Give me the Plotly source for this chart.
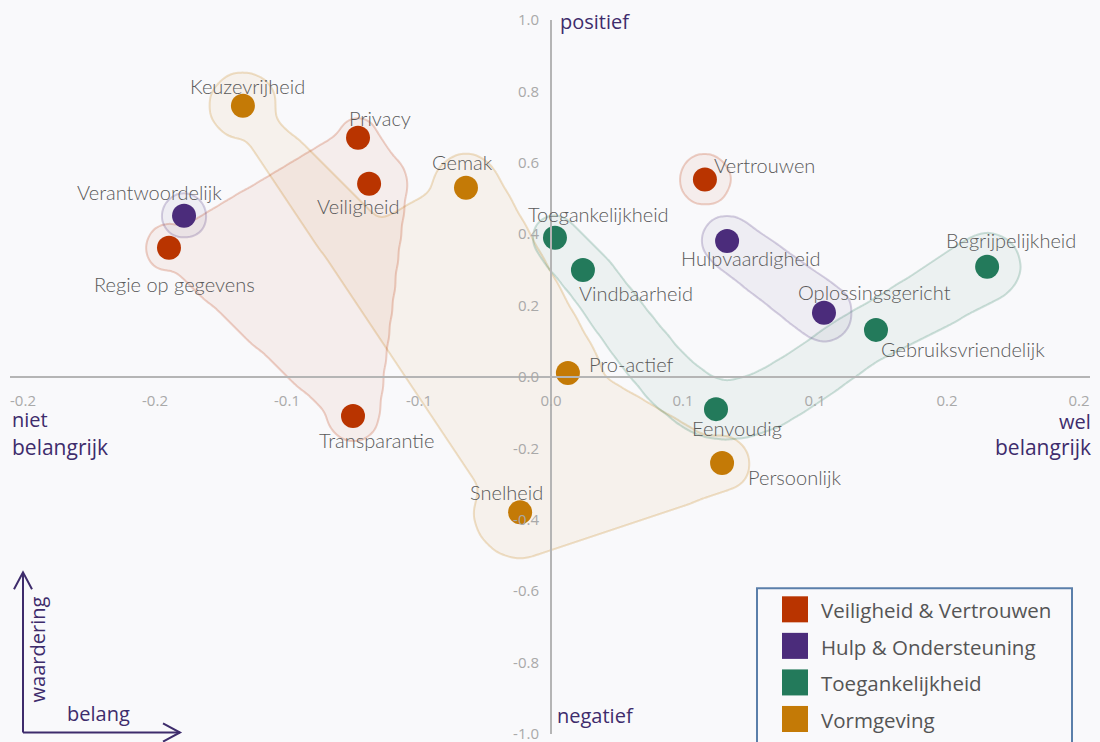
import numpy as np
import plotly.graph_objects as go

# ---------------- data ----------------
labels = ["Keuzevrijheid", "Privacy", "Veiligheid", "Gemak", "Verantwoordelijk",
          "Regie op gegevens", "Transparantie", "Snelheid", "Pro-actief",
          "Toegankelijkheid", "Vindbaarheid", "Vertrouwen", "Hulpvaardigheid",
          "Oplossingsgericht", "Gebruiksvriendelijk", "Begrijpelijkheid",
          "Eenvoudig", "Persoonlijk"]
belang = [-0.1167, -0.0731, -0.0689, -0.0322, -0.1390, -0.1447, -0.0750, -0.0117,
          0.0064, 0.0015, 0.0121, 0.0583, 0.0667, 0.1034, 0.1231, 0.1652, 0.0625, 0.0648]
waardering = [0.760, 0.670, 0.541, 0.530, 0.452, 0.362, -0.109, -0.379,
              0.011, 0.390, 0.300, 0.553, 0.381, 0.180, 0.132, 0.309, -0.090, -0.241]
categorie = ["Vormgeving", "Veiligheid & Vertrouwen", "Veiligheid & Vertrouwen", "Vormgeving",
             "Hulp & Ondersteuning", "Veiligheid & Vertrouwen", "Veiligheid & Vertrouwen",
             "Vormgeving", "Vormgeving", "Toegankelijkheid", "Toegankelijkheid",
             "Veiligheid & Vertrouwen", "Hulp & Ondersteuning", "Hulp & Ondersteuning",
             "Toegankelijkheid", "Toegankelijkheid", "Toegankelijkheid", "Vormgeving"]
categories = ["Veiligheid & Vertrouwen", "Hulp & Ondersteuning", "Toegankelijkheid", "Vormgeving"]

x_tickvals = [-0.2, -0.15, -0.1, -0.05, 0.0, 0.05, 0.1, 0.15, 0.2]
x_ticktext = ["-0.2", "-0.2", "-0.1", "-0.1", "0.0", "0.1", "0.1", "0.2", "0.2"]
y_tickvals = [1.0, 0.8, 0.6, 0.4, 0.2, 0.0, -0.2, -0.4, -0.6, -0.8, -1.0]
y_ticktext = ["1.0", "0.8", "0.6", "0.4", "0.2", "0.0", "-0.2", "-0.4", "-0.6", "-0.8", "-1.0"]

# ---------------- style ----------------
W, H = 1100, 753                # page height; the capture maps it onto 742 rows
VS = H / 742.0                  # page px per picture px (vertical)
ML, MR = 10, 10
MT = 19.5 * VS
MB = H - 732.5 * VS
PW, PH = W - ML - MR, H - MT - MB
PXU = 2640.0                    # pixels per data unit (x)
XR = (-0.2 - (23 - ML) / PXU, 0.2 + (W - MR - 1079) / PXU)
YR = (-1.0, 1.0)
PYU = PH / (YR[1] - YR[0]) / VS  # picture pixels per data unit (y)

colors = {"Veiligheid & Vertrouwen": "#B93400",
          "Hulp & Ondersteuning": "#4B2C7B",
          "Toegankelijkheid": "#237A5B",
          "Vormgeving": "#C47A06"}
rgb = {k: tuple(int(v[i:i + 2], 16) for i in (1, 3, 5)) for k, v in colors.items()}
BG = "#F9F9FB"
PURPLE = "#3E2C6C"
LABEL_FONT = "Lato"
GEO_FONT = "Open Sans"

label_offsets = {  # (dx, dy) in px, dy up
    "Keuzevrijheid": (5, 19), "Privacy": (22, 20), "Veiligheid": (-11, -22),
    "Gemak": (-3, 25), "Verantwoordelijk": (-35, 23), "Regie op gegevens": (6, -36),
    "Transparantie": (23, -24), "Snelheid": (-14, 20), "Pro-actief": (64, 9),
    "Toegankelijkheid": (44, 23), "Vindbaarheid": (53, -23), "Vertrouwen": (60, 14),
    "Hulpvaardigheid": (23, -17), "Oplossingsgericht": (51, 20),
    "Gebruiksvriendelijk": (87, -19), "Begrijpelijkheid": (24, 26),
    "Eenvoudig": (21, -19), "Persoonlijk": (72, -14),
}

# ---------------- hull geometry (derived from member points) ----------------
pos = {n: np.array([x * PXU, y * PYU]) for n, x, y in zip(labels, belang, waardering)}


def P(ref):
    if isinstance(ref, dict):
        return sum(w * pos[n] for n, w in ref.items())
    return pos[ref]


V1 = {"Keuzevrijheid": 0.46, "Gemak": 0.27, "Snelheid": 0.27}

hull_specs = {
    "Veiligheid & Vertrouwen": [
        ("poly", ["Regie op gegevens", "Privacy", "Veiligheid", "Transparantie"]),
        ("edge", "Regie op gegevens", "Privacy", 11, 13),
        ("edge", "Privacy", "Veiligheid", 20, 38),
        ("edge", "Veiligheid", "Transparantie", 38, 26),
        ("edge", "Transparantie", "Regie op gegevens", 16, 13),
        ("disc", "Regie op gegevens", 24), ("disc", "Privacy", 18),
        ("disc", "Transparantie", 25), ("disc", "Vertrouwen", 26),
    ],
    "Hulp & Ondersteuning": [
        ("disc", "Verantwoordelijk", 23),
        ("edge", "Hulpvaardigheid", "Oplossingsgericht", 26, 29),
    ],
    "Toegankelijkheid": [
        ("chain", ["Toegankelijkheid", "Vindbaarheid", "Eenvoudig", "Gebruiksvriendelijk",
                   "Begrijpelijkheid"], [23, 25, 30, 28, 34]),
    ],
    "Vormgeving": [
        ("poly", ["Keuzevrijheid", V1, "Gemak", "Pro-actief", "Persoonlijk", "Snelheid"]),
        ("edge", "Keuzevrijheid", V1, 14, 14),
        ("edge", V1, "Gemak", 14, 14),
        ("edge", "Gemak", "Pro-actief", 34, 34),
        ("edge", "Pro-actief", "Persoonlijk", 15, 15),
        ("edge", "Persoonlijk", "Snelheid", 28, 46),
        ("edge", "Snelheid", "Keuzevrijheid", 20, 16),
        ("disc", "Keuzevrijheid", 34), ("disc", "Gemak", 26),
        ("disc", "Persoonlijk", 28), ("disc", "Snelheid", 42),
    ],
}

gx = np.linspace(XR[0], XR[1], 361)
gy = np.linspace(YR[0], YR[1], 239)
GX, GY = np.meshgrid(gx * PXU, gy * PYU)


def f_disc(c, r):
    return np.hypot(GX - c[0], GY - c[1]) - r


def f_edge(a, b, ra, rb):
    ab = b - a
    t = np.clip(((GX - a[0]) * ab[0] + (GY - a[1]) * ab[1]) / (ab @ ab), 0, 1)
    return np.hypot(GX - (a[0] + t * ab[0]), GY - (a[1] + t * ab[1])) - (ra + t * (rb - ra))


def f_poly(pts):
    inside = np.zeros(GX.shape, bool)
    n = len(pts)
    for i in range(n):
        (xi, yi), (xj, yj) = pts[i], pts[i - 1]
        cond = ((yi > GY) != (yj > GY)) & (GX < (xj - xi) * (GY - yi) / (yj - yi + 1e-12) + xi)
        inside ^= cond
    return np.where(inside, -1.0, np.inf)


def f_chain(pts, radii):
    pts = [np.asarray(p) for p in pts]
    ext = [2 * pts[0] - pts[1]] + pts + [2 * pts[-1] - pts[-2]]
    out = np.full(GX.shape, np.inf)
    for i in range(len(pts) - 1):
        p0, p1, p2, p3 = ext[i], ext[i + 1], ext[i + 2], ext[i + 3]
        for t in np.linspace(0, 1, 80):
            c = 0.5 * (2 * p1 + (-p0 + p2) * t + (2 * p0 - 5 * p1 + 4 * p2 - p3) * t ** 2
                       + (-p0 + 3 * p1 - 3 * p2 + p3) * t ** 3)
            r = radii[i] + t * (radii[i + 1] - radii[i])
            out = np.minimum(out, f_disc(c, r))
    return out


def blur(a, s=2.0):
    k = np.exp(-0.5 * (np.arange(-6, 7) / s) ** 2)
    k /= k.sum()
    a = np.apply_along_axis(lambda m: np.convolve(m, k, mode="same"), 0, a)
    return np.apply_along_axis(lambda m: np.convolve(m, k, mode="same"), 1, a)


def hull_field(spec):
    f = np.full(GX.shape, np.inf)
    for comp in spec:
        kind = comp[0]
        if kind == "disc":
            g = f_disc(P(comp[1]), comp[2])
        elif kind == "edge":
            g = f_edge(P(comp[1]), P(comp[2]), comp[3], comp[4])
        elif kind == "poly":
            g = f_poly([P(p) for p in comp[1]])
        else:
            g = f_chain([P(p) for p in comp[1]], comp[2])
        f = np.minimum(f, g)
    return blur((f < 0).astype(float))


fig = go.Figure()

for cat in ["Vormgeving", "Veiligheid & Vertrouwen", "Toegankelijkheid", "Hulp & Ondersteuning"]:
    r, g, b = rgb[cat]
    fig.add_trace(go.Contour(
        x=gx, y=gy, z=hull_field(hull_specs[cat]),
        contours=dict(type="constraint", operation="<", value=0.5),
        fillcolor=f"rgba({r},{g},{b},0.06)",
        line=dict(color=f"rgba({r},{g},{b},0.22)", width=2, smoothing=1),
        showscale=False, hoverinfo="skip", showlegend=False))

for cat in categories:
    idx = [i for i, c in enumerate(categorie) if c == cat]
    fig.add_trace(go.Scatter(
        x=[belang[i] for i in idx], y=[waardering[i] for i in idx],
        mode="markers", name=cat, showlegend=False,
        marker=dict(size=24, color=colors[cat], line=dict(width=0)),
        text=[labels[i] for i in idx], hoverinfo="text"))

annotations = []
for n, x, y in zip(labels, belang, waardering):
    dx, dy = label_offsets[n]
    annotations.append(dict(x=x, y=y, xref="x", yref="y", text=n, showarrow=False,
                            xshift=dx, yshift=dy * VS, xanchor="center", yanchor="middle",
                            font=dict(family=LABEL_FONT, size=20, color="#5A5A5A",
                                      weight=300)))


def fx(px):
    return (px - ML) / PW


def fy(py):
    return (H - MB - py * VS) / PH


def txt(px, py, s, anchor="left", size=20, color=PURPLE, angle=0, family=GEO_FONT):
    annotations.append(dict(x=fx(px), y=fy(py), xref="paper", yref="paper", text=s,
                            showarrow=False, xanchor=anchor, yanchor="middle", textangle=angle,
                            font=dict(family=family, size=size, color=color)))


txt(558, 21, "positief")
txt(555, 714, "negatief")
txt(10, 418, "niet")
txt(10, 446, "belangrijk", size=21)
txt(1093, 420, "wel", anchor="right")
txt(1093, 446, "belangrijk", anchor="right", size=21)
txt(37, 648, "waardering", anchor="center", angle=-90)
txt(98, 712, "belang", anchor="center")

shapes = []
# corner arrows
arrow_line = dict(color=PURPLE, width=2)
shapes.append(dict(type="path", xref="paper", yref="paper", line=arrow_line,
                   path=f"M{fx(23)},{fy(731)} L{fx(23)},{fy(571)}"))
shapes.append(dict(type="path", xref="paper", yref="paper", line=arrow_line,
                   path=f"M{fx(14)},{fy(588)} L{fx(23)},{fy(571)} L{fx(32)},{fy(588)}"))
shapes.append(dict(type="path", xref="paper", yref="paper", line=arrow_line,
                   path=f"M{fx(23)},{fy(731)} L{fx(180)},{fy(731)}"))
shapes.append(dict(type="path", xref="paper", yref="paper", line=arrow_line,
                   path=f"M{fx(163)},{fy(722)} L{fx(180)},{fy(731)} L{fx(163)},{fy(740)}"))

# legend box
shapes.append(dict(type="rect", xref="paper", yref="paper", x0=fx(757), x1=fx(1072),
                   y0=fy(770), y1=fy(587), line=dict(color="#5B7FAA", width=2),
                   fillcolor="rgba(0,0,0,0)"))
for k, cat in enumerate(categories):
    cy = 608 + k * 36.5
    shapes.append(dict(type="rect", xref="paper", yref="paper", x0=fx(782), x1=fx(808),
                       y0=fy(cy + 13), y1=fy(cy - 13), line=dict(width=0),
                       fillcolor=colors[cat]))
    txt(819, cy + 1, cat, size=20.5, color="#555555")

axis_common = dict(showgrid=False, zeroline=False, showline=True, linecolor="#B5B5B5",
                   linewidth=2, anchor="free", ticks="outside",
                   tickcolor="rgba(0,0,0,0)",
                   tickfont=dict(family=GEO_FONT, size=15, color="#A9A9A9"), fixedrange=True)

fig.update_layout(
    width=W, height=H, autosize=False, margin=dict(l=ML, r=MR, t=MT, b=MB),
    paper_bgcolor=BG, plot_bgcolor=BG, showlegend=False,
    xaxis=dict(range=list(XR), tickmode="array", tickvals=x_tickvals, ticktext=x_ticktext,
               ticklen=10, position=(0 - YR[0]) / (YR[1] - YR[0]), **axis_common),
    yaxis=dict(range=list(YR), tickmode="array", tickvals=y_tickvals, ticktext=y_ticktext,
               ticklen=8, position=(0 - XR[0]) / (XR[1] - XR[0]), **axis_common),
    annotations=annotations, shapes=shapes,
)

page_js = ("document.body.style.margin='0';"
           "document.body.style.overflow='hidden';"
           "document.body.style.background='" + BG + "';")

fig.write_html("out.html",
               config={"displayModeBar": False, "responsive": False},
               post_script=page_js)
